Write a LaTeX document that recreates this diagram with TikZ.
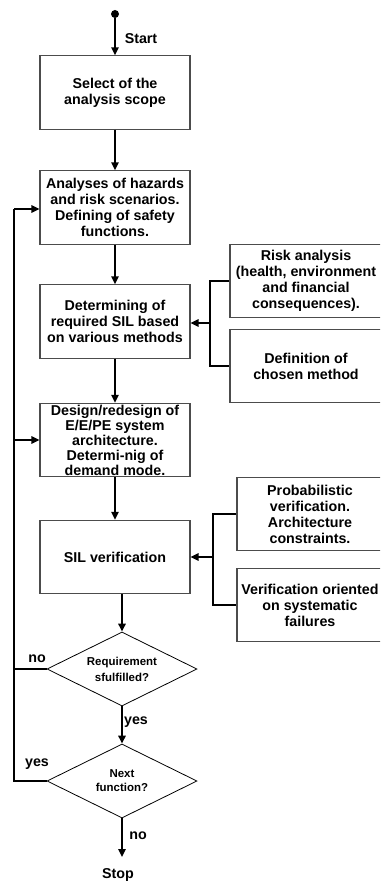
\documentclass[tikz,border=0pt]{standalone}
\usepackage{fontspec}
\setmainfont{Liberation Sans}
\usetikzlibrary{shapes.geometric,arrows.meta}
\begin{document}
\begin{tikzpicture}[x=0.75pt,y=-0.75pt,
  box/.style={draw=black!70,line width=0.8pt,minimum width=112.5pt,minimum height=55pt,
    inner sep=0pt,align=center,font=\bfseries\fontsize{10.7}{12}\selectfont},
  sidebox/.style={box,minimum width=114pt},
  sidebox2/.style={box,minimum width=109.5pt},
  dec/.style={draw=black,line width=0.6pt,shape=diamond,aspect=2,minimum width=112.5pt,
    minimum height=55.5pt,inner sep=0pt,align=center},
  conn/.style={line width=1.4pt,-{Triangle[length=6pt,width=5.5pt]}},
  line/.style={line width=1.4pt},
  lbl/.style={inner sep=0pt,font=\bfseries\fontsize{10.7}{12}\selectfont}]
\clip (0,0) rectangle (380,881);
\useasboundingbox (0,0) rectangle (380,881);

\node[circle,fill=black,inner sep=0pt,minimum size=6pt] (start) at (115,14) {};
\node[box] (b1) at (115,92.5) {Select of the\\analysis scope};
\node[box] (b2) at (115,207.5) {Analyses of hazards\\and risk scenarios.\\Defining of safety\\functions.};
\node[box] (b3) at (115,321.5) {Determining of\\required SIL based\\on various methods};
\node[box,font=\bfseries\fontsize{10.7}{11.25}\selectfont] (b4) at (115,440) {Design/redesign of\\E/E/PE system\\architecture.\\Determi-nig of\\demand mode.};
\node[box] (b5) at (115,557) {SIL verification};

\node[sidebox] (r1) at (306,281) {Risk analysis\\(health, environment\\and financial\\consequences).};
\node[sidebox] (r2) at (306,366) {Definition of\\chosen method};
\node[sidebox2] (r3) at (310,514) {Probabilistic\\verification.\\Architecture\\constraints.};
\node[sidebox2] (r4) at (310,605) {Verification oriented\\on systematic\\failures};

\node[dec,font=\bfseries\fontsize{8.6}{12}\selectfont] (d1) at (122,669) {Requirement\\sfulfilled?};
\node[dec,font=\bfseries\fontsize{8.6}{10.5}\selectfont] (d2) at (122,781) {Next\\function?};

\coordinate (stopc) at (122,857);
\coordinate (fbtop) at (14,209);
\coordinate (fbmid) at (14,440);
\coordinate (fbd1) at (14,669);
\coordinate (fbbot) at (14,781);
\coordinate (br1) at (210,323);
\coordinate (br2) at (213,557);

% main flow
\draw[conn] (start) -- (b1);
\draw[conn] (b1) -- (b2);
\draw[conn] (b2) -- (b3);
\draw[conn] (b3) -- (b4);
\draw[conn] (b4) -- (b5);
\draw[conn] (b5.south -| d1.north) -- (d1.north);
\draw[conn] (d1.south) -- (d2.north);
\draw[conn] (d2.south) -- (stopc);

% feedback
\draw[line] (d2.west) -- (fbbot) -- (fbtop);
\draw[conn] (fbtop) -- (b2.west |- fbtop);
\draw[line] (d1.west) -- (fbd1);
\draw[conn] (fbmid) -- (b4.west);

% brackets
\draw[line] (r1.west) -| (br1) |- (r2.west);
\draw[conn] (br1) -- (b3.east |- br1);
\draw[line] (r3.west) -| (br2) |- (r4.west);
\draw[conn] (br2) -- (b5.east);

% labels
\node[lbl] (lstart) at (141,39) {Start};
\node[lbl] (lno1) at (37,659) {no};
\node[lbl] (lyes1) at (136,722) {yes};
\node[lbl] (lyes2) at (37,764) {yes};
\node[lbl] (lno2) at (138,836) {no};
\node[lbl] (lstop) at (118,875) {Stop};
\end{tikzpicture}
\end{document}
